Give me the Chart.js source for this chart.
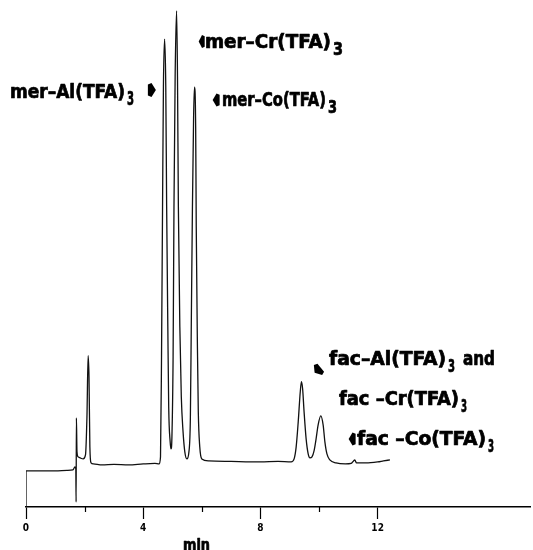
<!DOCTYPE html>
<html>
<head>
<meta charset="utf-8">
<script src="https://cdn.jsdelivr.net/npm/chart.js@4"></script>
<style>
  html, body { margin: 0; padding: 0; background: #fff; }
  #wrap { width: 533px; height: 550px; position: relative; }
</style>
</head>
<body>
<div id="wrap"><canvas id="chromatogram"></canvas></div>
<script>
// ===== DATA =====
const retentionTime = [
  0, 0, 0.5, 1.0, 1.4, 1.6, 1.67, 1.70, 1.71, 1.72, 1.74, 1.78, 1.85, 1.95,
  2.03, 2.08, 2.12, 2.15, 2.18, 2.22, 2.3, 2.6, 3.0, 3.5, 4.0, 4.4, 4.54,
  4.59, 4.625, 4.66, 4.69, 4.73, 4.77, 4.80, 4.84, 4.87, 4.92, 4.95, 4.98,
  5.02, 5.05, 5.09, 5.14, 5.17, 5.20, 5.25, 5.30, 5.36, 5.42, 5.49, 5.56,
  5.61, 5.64, 5.68, 5.72, 5.75, 5.79, 5.81, 5.85, 5.88, 5.93, 6.00, 6.24,
  7.0, 8.0, 8.6, 9.05, 9.15, 9.22, 9.29, 9.36, 9.40, 9.44, 9.49, 9.56, 9.63,
  9.69, 9.76, 9.83, 9.90, 9.97, 10.06, 10.14, 10.20, 10.27, 10.37, 10.58,
  10.9, 11.1, 11.18, 11.22, 11.28, 11.6, 12.0, 12.2, 12.42,
];
const signal = [
  0, 36, 36, 36, 36.5, 37, 40, 38, 5, 89, 55, 50, 49, 48,
  52, 90, 151, 130, 60, 44, 43, 42, 42.5, 42, 43, 43.5, 43,
  50, 150, 300, 420, 467, 420, 300, 180, 100, 65, 58, 70,
  150, 300, 430, 495, 430, 300, 180, 110, 75, 55, 48, 55,
  90, 180, 300, 390, 419, 380, 280, 160, 95, 60, 48, 46,
  45.5, 45, 45.5, 45, 48, 60, 85, 115, 125, 118, 95, 68, 53,
  49, 50, 56, 68, 82, 91, 82, 65, 53, 47, 44,
  43, 43.5, 46, 47, 44, 44, 45, 46, 47,
];
const labelledTicks = [0, 4, 8, 12];
const minorTicks = [2, 6, 10];
const peakNames = [
  "mer–Al(TFA)",
  "mer–Cr(TFA)",
  "mer–Co(TFA)",
  "fac–Al(TFA)",
  "fac –Cr(TFA)",
  "fac –Co(TFA)",
];
const subscript = "3";
const joinWord = "and";

const X_MAX = 17.2;
const FONT = '"DejaVu Sans Condensed", "DejaVu Sans", sans-serif';

// draw text squeezed/stretched into [x0, x1]
function fitText(ctx, text, x0, x1, base, size) {
  ctx.font = `bold ${size}px ${FONT}`;
  const w = ctx.measureText(text).width;
  ctx.save();
  ctx.translate(x0, base);
  ctx.scale((x1 - x0) / w, 1);
  ctx.textBaseline = "alphabetic";
  ctx.textAlign = "left";
  ctx.lineWidth = 0.7;
  ctx.lineJoin = "round";
  ctx.strokeText(text, 0, 0);
  ctx.fillText(text, 0, 0);
  ctx.restore();
}

// little arrowhead markers next to the labels
function arrowHead(ctx, cx, cy, angle, w, h) {
  ctx.save();
  ctx.translate(cx, cy);
  ctx.rotate(angle);
  ctx.beginPath();
  ctx.moveTo(w * 0.55, 0);
  ctx.lineTo(0, -h / 2);
  ctx.lineTo(-w * 0.45, -h * 0.4);
  ctx.lineTo(-w * 0.45, h * 0.4);
  ctx.lineTo(0, h / 2);
  ctx.closePath();
  ctx.fill();
  ctx.restore();
}

const annotations = {
  id: "annotations",
  afterDraw(chart) {
    const ctx = chart.ctx;
    const xs = chart.scales.x;
    const yAxis = chart.chartArea.bottom;
    ctx.save();
    ctx.fillStyle = "#000";
    ctx.strokeStyle = "#000";

    // minor ticks
    ctx.lineWidth = 1.2;
    minorTicks.forEach((v) => {
      const px = Math.round(xs.getPixelForValue(v)) + 0.5;
      ctx.beginPath();
      ctx.moveTo(px, yAxis);
      ctx.lineTo(px, yAxis + 5);
      ctx.stroke();
    });

    // axis title
    fitText(ctx, "min", 183, 210, 549.5, 16);

    // peak labels: [x0, x1, baseline, size, sub x0, sub x1]
    const spec = [
      [10, 125, 98, 20, 127, 134],
      [205, 331, 48, 19, 333, 343],
      [222, 326, 106, 19, 328, 337],
      [329, 446, 365, 19, 448, 455],
      [339, 459, 405, 19, 461, 467],
      [357, 486, 445, 19, 488, 494],
    ];
    peakNames.forEach((name, i) => {
      const s = spec[i];
      fitText(ctx, name, s[0], s[1], s[2], s[3]);
      fitText(ctx, subscript, s[4], s[5], s[2] + 7, s[3] - 1);
    });
    fitText(ctx, joinWord, 463, 495, 365, 19);

    arrowHead(ctx, 151.5, 90, 0, 8, 14);
    arrowHead(ctx, 202, 41.5, Math.PI, 6, 13);
    arrowHead(ctx, 216.5, 100, Math.PI, 7, 13);
    arrowHead(ctx, 318, 370, Math.PI * 0.78, 8, 13);
    arrowHead(ctx, 352.5, 439, Math.PI, 7, 13);

    ctx.restore();
  },
};

new Chart(document.getElementById("chromatogram"), {
  type: "line",
  data: {
    datasets: [
      {
        data: retentionTime.map((t, i) => ({ x: t, y: signal[i] })),
        borderColor: "#111",
        borderWidth: 1.3,
        pointRadius: 0,
        fill: false,
        cubicInterpolationMode: "monotone",
      },
    ],
  },
  options: {
    responsive: true,
    maintainAspectRatio: false,
    animation: false,
    layout: { padding: { left: 26, right: 0, top: 6, bottom: 13 } },
    plugins: {
      legend: { display: false },
      tooltip: { enabled: false },
    },
    scales: {
      x: {
        type: "linear",
        min: 0,
        max: X_MAX,
        ticks: {
          stepSize: 2,
          autoSkip: false,
          maxRotation: 0,
          padding: 3,
          color: "#000",
          font: { family: FONT, size: 10, weight: "bold" },
          callback: (v) => (labelledTicks.includes(v) ? String(v) : ""),
        },
        grid: {
          drawOnChartArea: false,
          drawTicks: true,
          tickLength: 12,
          tickWidth: 1.2,
          tickColor: (c) =>
            c.tick && labelledTicks.includes(c.tick.value)
              ? "#000"
              : "rgba(0,0,0,0)",
        },
        border: { display: true, color: "#000", width: 1.5 },
      },
      y: {
        display: false,
        min: 0,
        max: 500,
      },
    },
  },
  plugins: [annotations],
});
</script>
</body>
</html>
